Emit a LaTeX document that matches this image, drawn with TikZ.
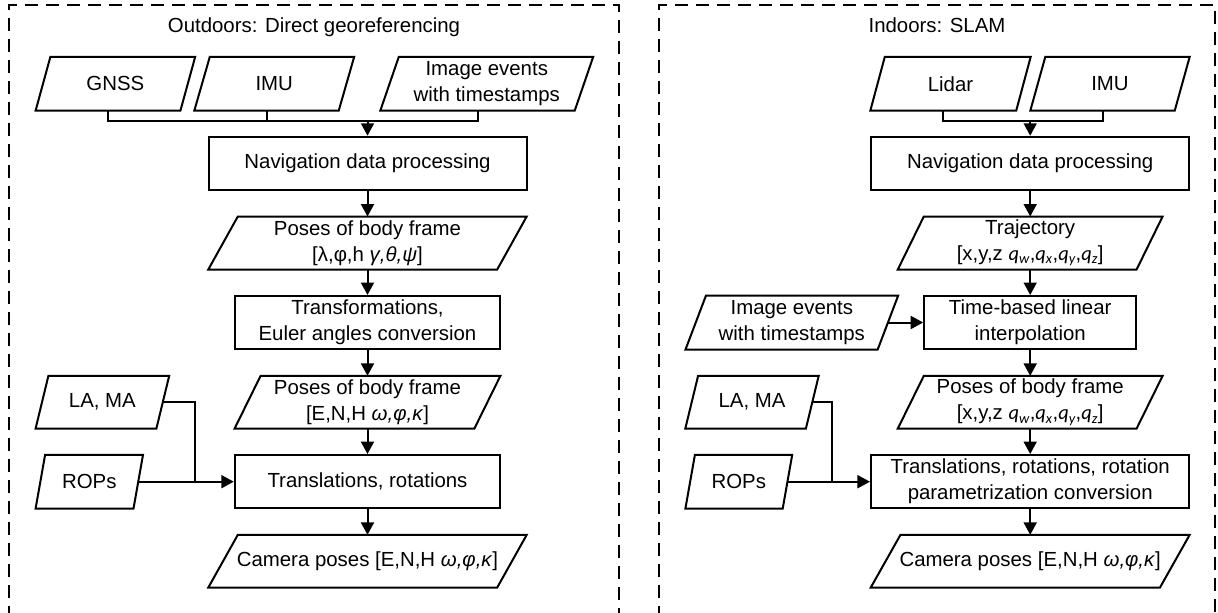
\documentclass[tikz,border=0pt]{standalone}
\usepackage{fontspec}
\setmainfont{Liberation Sans}
\newfontfamily\calib{Carlito}
\usetikzlibrary{arrows.meta}
\newcommand\fs{\fontsize{20.4}{26}\selectfont}
\newcommand\qq[1]{{\calib\itshape q\textsubscript{#1}}}
\newcommand\para[2]{\draw[ln] ([xshift=#2pt]#1.north west) -- (#1.north east) -- ([xshift=-#2pt]#1.south east) -- (#1.south west) -- cycle;}
\tikzset{
  base/.style={inner sep=0pt, align=center, font=\fs},
  box/.style={base, draw, line width=2pt},
  paranode/.style={base},
  ln/.style={line width=2pt, line join=miter},
  arr/.style={line width=2pt, -{Triangle[length=12.5pt,width=13pt]}},
  frame/.style={line width=2.2pt, dash pattern=on 13pt off 8pt}
}
\begin{document}
\begin{tikzpicture}[x=1pt,y=-1pt]
\useasboundingbox (0,0) rectangle (1218,613);
% frames
\draw[frame] (9,640) -- (9,5) -- (619,5) -- (619,640);
\draw[frame] (659,640) -- (659,5) -- (1215,5) -- (1215,640);
\node[base, anchor=base] (tL) at (314,32.5) {Outdoors: Direct georeferencing};
\node[base, anchor=base] (tR) at (937,32.5) {Indoors: SLAM};
% ---------- left panel ----------
\node[paranode, minimum width=159.2pt, minimum height=53.5pt] (gnss) at (115.4,83.75) {GNSS};
\node[paranode, minimum width=159.5pt, minimum height=53.5pt] (imuL) at (274.25,83.75) {IMU};
\node[paranode, minimum width=212.5pt, minimum height=53.5pt] (imgL) at (486.75,83.75) {Image events\\with timestamps};
\node[box, minimum width=318pt, minimum height=53.3pt] (navL) at (367.5,163.4) {Navigation data processing};
\node[paranode, minimum width=318pt, minimum height=52.6pt] (posL1) at (367.5,243) {Poses of body frame\\{}[λ,φ,h \textit{γ,θ,ψ}]};
\node[box, minimum width=265.4pt, minimum height=53pt] (trfL) at (367.5,322.5) {Transformations,\\Euler angles conversion};
\node[paranode, minimum width=265.4pt, minimum height=52.3pt] (posL2) at (367.5,402.2) {Poses of body frame\\{}[E,N,H \textit{ω,φ,κ}]};
\node[box, minimum width=265.4pt, minimum height=53.3pt] (trnL) at (367.5,481.7) {Translations, rotations};
\node[paranode, minimum width=318pt, minimum height=52.3pt] (camL) at (367.5,561.2) {Camera poses [E,N,H \textit{ω,φ,κ}]};
\node[paranode, minimum width=133.2pt, minimum height=52.3pt] (laL) at (102.4,402.2) {LA, MA};
\node[paranode, minimum width=107pt, minimum height=53.3pt] (ropL) at (89.3,481.7) {ROPs};
\para{gnss}{14.8}
\para{imuL}{15.5}
\para{imgL}{18.5}
\para{posL1}{29.5}
\para{posL2}{26}
\para{camL}{29.5}
\para{laL}{12.8}
\para{ropL}{9.5}
\coordinate (jL) at (367.5,120.7);
\draw[ln] ([xshift=-7.4pt]gnss.south) |- (jL) -| ([xshift=-9.25pt]imgL.south);
\draw[ln] ([xshift=-7.75pt]imuL.south) -- ([xshift=-7.75pt]imuL.south |- jL);
\draw[arr] (jL) -- (navL.north);
\draw[arr] (navL.south) -- (posL1.north);
\draw[arr] (posL1.south) -- (trfL.north);
\draw[arr] (trfL.south) -- (posL2.north);
\draw[arr] (posL2.south) -- (trnL.north);
\draw[arr] (trnL.south) -- (camL.north);
\coordinate (mL) at (195.3,481.7);
\draw[ln] ([xshift=-6.4pt]laL.east) -| (mL);
\draw[arr] ([xshift=-4.75pt]ropL.east) -- (trnL.west);
% ---------- right panel ----------
\node[paranode, minimum width=160pt, minimum height=53.5pt] (lidar) at (950.5,83.75) {Lidar};
\node[paranode, minimum width=159pt, minimum height=53.5pt] (imuR) at (1110,83.75) {IMU};
\node[box, minimum width=318.5pt, minimum height=53.3pt] (navR) at (1030.2,163.4) {Navigation data processing};
\node[paranode, minimum width=264.4pt, minimum height=52.6pt] (traj) at (1030.2,243) {Trajectory\\{}[x,y,z \qq{w},\qq{x},\qq{y},\qq{z}]};
\node[box, minimum width=212pt, minimum height=53pt] (timeR) at (1030.2,322.5) {Time-based linear\\interpolation};
\node[paranode, minimum width=212.3pt, minimum height=53.6pt] (imgR) at (791.85,322.5) {Image events\\with timestamps};
\node[paranode, minimum width=264.4pt, minimum height=52.3pt] (posR) at (1030.2,402.2) {Poses of body frame\\{}[x,y,z \qq{w},\qq{x},\qq{y},\qq{z}]};
\node[box, minimum width=318.5pt, minimum height=53.3pt] (trnR) at (1030.2,481.7) {Translations, rotations, rotation\\parametrization conversion};
\node[paranode, minimum width=318.5pt, minimum height=52.3pt] (camR) at (1030.2,561.2) {Camera poses [E,N,H \textit{ω,φ,κ}]};
\node[paranode, minimum width=133pt, minimum height=52.3pt] (laR) at (752,402.2) {LA, MA};
\node[paranode, minimum width=106.4pt, minimum height=53.3pt] (ropR) at (738.8,481.7) {ROPs};
\para{lidar}{14.5}
\para{imuR}{15}
\para{traj}{26}
\para{imgR}{20.5}
\para{posR}{26}
\para{camR}{29.7}
\para{laR}{12.8}
\para{ropR}{9.5}
\coordinate (jR) at (1030.2,120.7);
\draw[ln] ([xshift=-7.25pt]lidar.south) |- (jR) -| ([xshift=-7.5pt]imuR.south);
\draw[arr] (jR) -- (navR.north);
\draw[arr] (navR.south) -- (traj.north);
\draw[arr] (traj.south) -- (timeR.north);
\draw[arr] ([xshift=-10.25pt]imgR.east) -- (timeR.west);
\draw[arr] (timeR.south) -- (posR.north);
\draw[arr] (posR.south) -- (trnR.north);
\draw[arr] (trnR.south) -- (camR.north);
\coordinate (mR) at (831.7,481.7);
\draw[ln] ([xshift=-6.4pt]laR.east) -| (mR);
\draw[arr] ([xshift=-4.75pt]ropR.east) -- (trnR.west);
\end{tikzpicture}
\end{document}
